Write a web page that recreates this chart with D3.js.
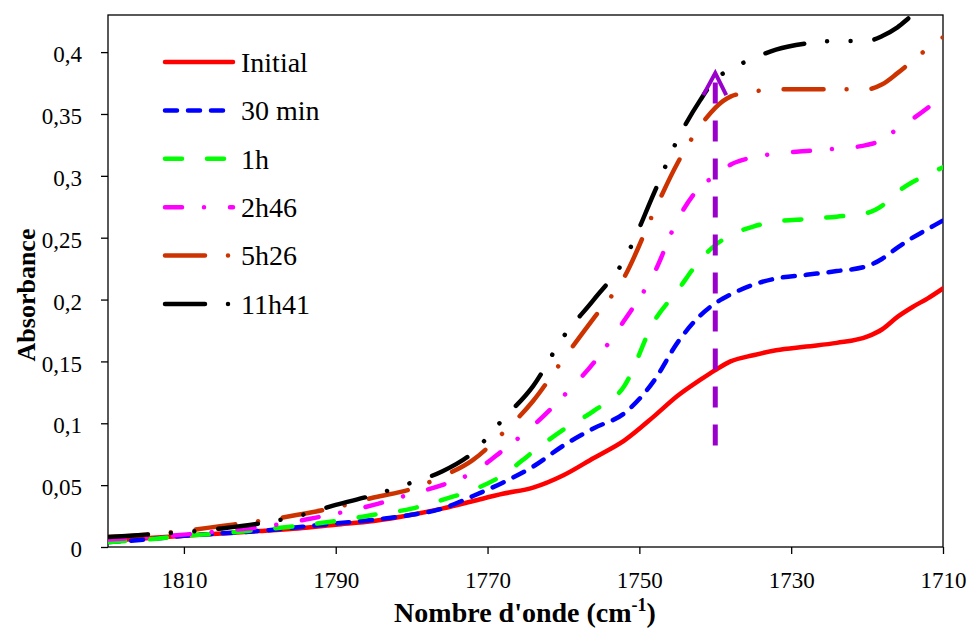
<!DOCTYPE html>
<html><head><meta charset="utf-8">
<script src="https://cdn.jsdelivr.net/npm/d3@7"></script>
<style>
body{margin:0;background:#fff}
svg{display:block}
svg text{font-family:"Liberation Serif","Times New Roman",Times,Tinos,"DejaVu Serif","Noto Serif",serif !important;fill:#000}
</style>
</head><body>
<svg id="chart" width="971" height="630"></svg>
<script>
// ---- data ----
const wavenumbers = [1820,1815,1810,1805,1800,1795,1790,1785,1780,1776,1772,1768,1764,1760,1756,1752,1748,1745,1742,1740,1738,1735,1732,1728,1724,1720,1718,1716,1714,1712,1710];
const initial = [0.005,0.007,0.009,0.011,0.013,0.015,0.018,0.021,0.026,0.031,0.037,0.043,0.048,0.058,0.072,0.086,0.106,0.122,0.135,0.143,0.150,0.155,0.159,0.162,0.165,0.170,0.176,0.186,0.194,0.201,0.209];
const min30 = [0.004,0.006,0.009,0.011,0.013,0.016,0.019,0.022,0.026,0.031,0.041,0.052,0.065,0.082,0.096,0.108,0.135,0.165,0.187,0.197,0.204,0.212,0.217,0.220,0.223,0.227,0.233,0.242,0.250,0.257,0.264];
const h1 = [0.004,0.006,0.009,0.011,0.014,0.017,0.021,0.026,0.031,0.038,0.046,0.058,0.077,0.095,0.110,0.130,0.183,0.207,0.232,0.244,0.252,0.259,0.263,0.265,0.267,0.270,0.276,0.287,0.295,0.301,0.307];
const h2m46 = [0.006,0.008,0.010,0.013,0.016,0.021,0.027,0.034,0.043,0.050,0.060,0.078,0.098,0.122,0.149,0.183,0.222,0.264,0.291,0.300,0.309,0.315,0.318,0.320,0.322,0.325,0.329,0.338,0.346,0.355,0.365];
const h5m26 = [0.008,0.010,0.013,0.017,0.021,0.026,0.032,0.040,0.047,0.057,0.070,0.092,0.118,0.152,0.185,0.218,0.272,0.310,0.340,0.355,0.364,0.368,0.370,0.370,0.370,0.370,0.374,0.383,0.393,0.403,0.412];
const h11m41 = [0.008,0.010,0.012,0.015,0.019,0.025,0.034,0.042,0.052,0.061,0.076,0.103,0.130,0.170,0.200,0.232,0.287,0.329,0.361,0.378,0.386,0.395,0.402,0.407,0.409,0.409,0.413,0.420,0.430,0.438,0.446];
const seriesNames = ["Initial","30 min","1h","2h46","5h26","11h41"];
const seriesValues = [initial, min30, h1, h2m46, h5m26, h11m41];
const xTicks = [1810,1790,1770,1750,1730,1710];
const yTicks = [0,0.05,0.1,0.15,0.2,0.25,0.3,0.35,0.4];
const yTickLabels = ["0","0,05","0,1","0,15","0,2","0,25","0,3","0,35","0,4"];
const arrowWavenumber = 1740;
const arrowFrom = 0.082;
const arrowTo = 0.383;

// ---- styles ----
const styles = [
  {color:"#FF0000", dash:null},
  {color:"#0000FF", dash:"12 11"},
  {color:"#00FF00", dash:"17 25"},
  {color:"#FF00FF", dash:"17 22 0.001 26"},
  {color:"#CC3300", dash:"40 23 0.001 25"},
  {color:"#000000", dash:"40 23 0.001 23.5 0.001 24"}
];
const SERIF = '"Liberation Serif","Times New Roman",Times,Tinos,"DejaVu Serif","Noto Serif",serif';

const L = 108, R = 943, T = 15, B = 547;
const svg = d3.select("#chart");
const x = d3.scaleLinear().domain([1820,1710]).range([L,R]);
const y = d3.scaleLinear().domain([0,0.43]).range([B,T]);

svg.append("defs").append("clipPath").attr("id","clip")
  .append("rect").attr("x",L).attr("y",T).attr("width",R-L).attr("height",B-T);

// axes
const xAxis = svg.append("g").attr("transform",`translate(0,${B})`)
  .call(d3.axisBottom(x).tickValues(xTicks).tickSize(7).tickFormat(d3.format("d")));
xAxis.attr("font-family",SERIF);
xAxis.select(".domain").remove();
xAxis.selectAll(".tick line").attr("stroke","#000").attr("stroke-width",1.3);
xAxis.selectAll("text").attr("y",41).attr("dy",0).style("font-size","23px").attr("fill","#000");

const yAxis = svg.append("g").attr("transform",`translate(${L},0)`)
  .call(d3.axisLeft(y).tickValues(yTicks).tickSize(7).tickFormat((d,i)=>yTickLabels[i]));
yAxis.attr("font-family",SERIF);
yAxis.select(".domain").remove();
yAxis.selectAll(".tick line").attr("stroke","#000").attr("stroke-width",1.3);
yAxis.selectAll("text").attr("x",-26).attr("dy","0.42em").style("font-size","23px").attr("fill","#000");

// frame
svg.append("rect").attr("x",L).attr("y",T).attr("width",R-L).attr("height",B-T)
  .attr("fill","none").attr("stroke","#000").attr("stroke-width",1.3);

// series
const line = d3.line().x((d,i)=>x(wavenumbers[i])).y(d=>y(d)).curve(d3.curveMonotoneX);
const plot = svg.append("g").attr("clip-path","url(#clip)");
seriesValues.forEach((vals,k)=>{
  plot.append("path").attr("d",line(vals)).attr("fill","none")
    .attr("stroke",styles[k].color).attr("stroke-width",4.5)
    .attr("stroke-linecap","round").attr("stroke-linejoin","round")
    .attr("stroke-dasharray",styles[k].dash);
});

// arrow
const ax = x(arrowWavenumber);
svg.append("line").attr("x1",ax).attr("x2",ax).attr("y1",y(arrowFrom)).attr("y2",y(arrowTo)+6)
  .attr("stroke","#9900CC").attr("stroke-width",5).attr("stroke-dasharray","21 17");
svg.append("polyline")
  .attr("points",`${ax-12},${y(arrowTo)+22} ${ax},${y(arrowTo)} ${ax+11},${y(arrowTo)+22}`)
  .attr("fill","none").attr("stroke","#9900CC").attr("stroke-width",4).attr("stroke-linejoin","miter");

// legend
const legend = svg.append("g");
seriesNames.forEach((name,k)=>{
  const ly = 62 + k*48.4;
  legend.append("line").attr("x1",165).attr("x2",233).attr("y1",ly).attr("y2",ly)
    .attr("stroke",styles[k].color).attr("stroke-width",4.5).attr("stroke-linecap","round")
    .attr("stroke-dasharray",styles[k].dash);
  legend.append("text").attr("x",241).attr("y",ly).attr("dy","0.35em")
    .attr("font-family",SERIF).style("font-size","28px").text(name);
});

// axis titles
const xt = svg.append("text").attr("x",525).attr("y",622).attr("text-anchor","middle")
  .attr("font-family",SERIF).style("font-size","28px").style("font-weight","bold");
xt.append("tspan").text("Nombre d'onde (cm");
xt.append("tspan").attr("dy",-11).style("font-size","18px").text("-1");
xt.append("tspan").attr("dy",11).text(")");

svg.append("text").attr("transform","translate(35,295) rotate(-90)").attr("text-anchor","middle")
  .attr("font-family",SERIF).style("font-size","26px").style("font-weight","bold").text("Absorbance");
</script>
</body></html>
